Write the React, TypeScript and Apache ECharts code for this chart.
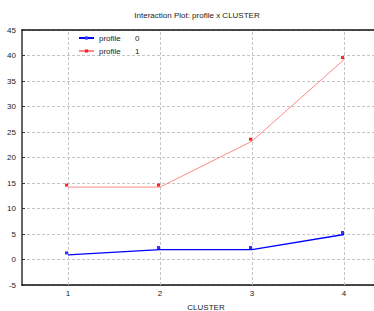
import React, { useEffect, useRef } from "react";
import * as echarts from "echarts";

const categories = ["1", "2", "3", "4"];
const profile0 = [0.9, 1.95, 1.95, 4.9];
const profile1 = [14.2, 14.2, 23.2, 39.2];
const seriesNames = ["0", "1"];
const titleText = "Interaction Plot: profile x CLUSTER";
const xName = "CLUSTER";

const FONT = "Liberation Sans, Arial, sans-serif";

export default function App() {
  const ref = useRef<HTMLDivElement>(null);
  useEffect(() => {
    if (!ref.current) return;
    const chart = echarts.init(ref.current, undefined, { renderer: "svg" });
    chart.setOption({
      animation: false,
      backgroundColor: "#ffffff",
      textStyle: { fontFamily: FONT },
      title: {
        text: titleText,
        left: 192,
        textAlign: "center",
        top: 6,
        textStyle: { fontSize: 8, fontWeight: "normal", color: "#222", fontFamily: FONT },
      },
      legend: {
        left: 78,
        top: 34,
        padding: 0,
        orient: "vertical",
        itemWidth: 15,
        itemHeight: 4,
        itemGap: 5,
        formatter: (name: string) => `{a|profile}{b|${name}}`,
        textStyle: {
          fontSize: 8,
          color: "#222",
          fontFamily: FONT,
          rich: {
            a: { width: 36, fontSize: 8, fontFamily: FONT, color: "#222" },
            b: { fontSize: 8, fontFamily: FONT, color: "#222" },
          },
        },
      },
      grid: { left: 22, right: -16, top: 30, bottom: 26, containLabel: false, outerBoundsMode: "none" },
      xAxis: [
        {
          type: "category",
          data: categories,
          name: xName,
          nameLocation: "middle",
          nameGap: 18,
          nameTextStyle: { fontSize: 8, color: "#222", fontFamily: FONT },
          axisLine: { onZero: false, lineStyle: { color: "#111", width: 1.5 } },
          axisTick: { alignWithLabel: true, inside: true, length: 3, lineStyle: { color: "#111" } },
          axisLabel: { fontSize: 8, color: "#222", margin: 4, fontFamily: FONT },
          splitLine: { show: false },
        },
        {
          type: "category",
          data: categories,
          position: "top",
          axisLine: { onZero: false, lineStyle: { color: "#111", width: 1.5 } },
          axisTick: { alignWithLabel: true, inside: true, length: 3, lineStyle: { color: "#111" } },
          axisLabel: { show: false },
          splitLine: { show: false },
        },
      ],
      yAxis: {
        type: "value",
        min: -5,
        max: 45,
        interval: 5,
        axisLine: { show: true, lineStyle: { color: "#666", width: 2 } },
        axisTick: { show: true, inside: true, length: 3, lineStyle: { color: "#333" } },
        axisLabel: { fontSize: 8, color: "#222", margin: 6, fontFamily: FONT },
        splitLine: { show: true, lineStyle: { color: "#c4c4c4", type: [3, 2], width: 1 } },
      },
      series: [
        {
          name: seriesNames[0],
          type: "line",
          data: profile0,
          color: "#0000ff",
          lineStyle: { color: "#0000ff", width: 1.3 },
          symbol: "rect",
          symbolSize: 3,
          symbolOffset: [-1.5, -2],
          itemStyle: { color: "#3030ff" },
          z: 3,
          markLine: {
            silent: true,
            symbol: "none",
            label: { show: false },
            lineStyle: { color: "#c4c4c4", type: [3, 2], width: 1 },
            data: categories.map((c) => ({ xAxis: c })),
            z: 1,
          },
        },
        {
          name: seriesNames[1],
          type: "line",
          data: profile1,
          color: "#ff0000",
          lineStyle: { color: "#ff8888", width: 1 },
          symbol: "rect",
          symbolSize: 3,
          symbolOffset: [-1.5, -2],
          itemStyle: { color: "#ff2020" },
          z: 3,
        },
      ],
    });
    return () => chart.dispose();
  }, []);
  return <div ref={ref} style={{ width: 374, height: 311, position: "absolute", left: 0, top: 0 }} />;
}
